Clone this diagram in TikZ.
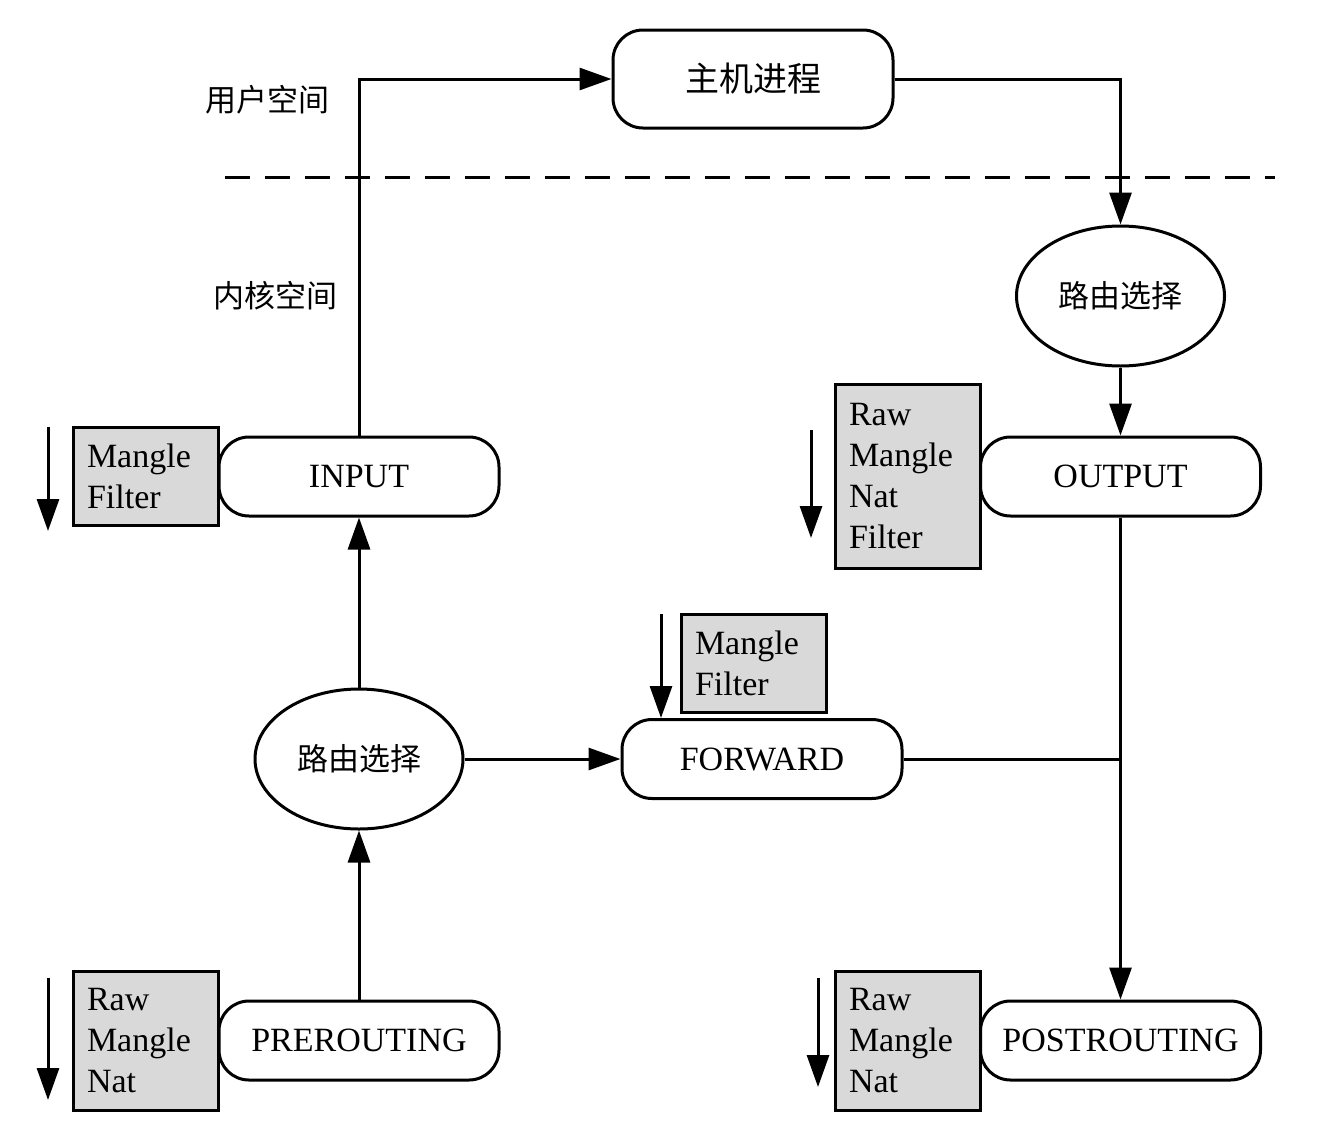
\documentclass[tikz,border=0pt]{standalone}
\usepackage{fontspec}
\setmainfont{Liberation Serif}
\newfontfamily\cjk{Noto Sans CJK SC}
\usetikzlibrary{shapes.geometric,arrows.meta}
\begin{document}
\begin{tikzpicture}[x=1pt,y=-1pt,
  lw/.style={line width=3pt},
  chain/.style={lw,draw,rounded corners=30pt,minimum width=280pt,minimum height=79pt,inner sep=0pt,font=\fontsize{34}{41}\selectfont},
  tbl/.style={lw,draw,fill=gray!30,minimum width=145pt,align=left,inner xsep=14pt,inner ysep=6pt,text width=117pt,font=\fontsize{34}{41}\selectfont},
  route/.style={lw,draw,ellipse,minimum width=208pt,minimum height=140pt,inner sep=0pt,font=\cjk\fontsize{31}{36}\selectfont},
  arr/.style={lw,-{Triangle[length=32pt,width=22pt]}},
  lbl/.style={font=\cjk\fontsize{31}{36}\selectfont}
]
\useasboundingbox (0,0) rectangle (1335,1146);

% dashed boundary
\coordinate (dl) at (225,177);
\coordinate (dr) at (1275,177);
\draw[lw,dash pattern=on 25pt off 15pt] (dl) -- (dr);

\node[lbl] (user) at (267,100) {用户空间};
\node[lbl] (kern) at (275,296) {内核空间};

% main nodes
\node[chain,minimum height=98pt] (host) at (753,79) {\cjk 主机进程};
\node[chain] (input) at (359,476.5) {INPUT};
\node[chain] (output) at (1120.5,476.5) {OUTPUT};
\node[chain] (fwd) at (762,759) {FORWARD};
\node[chain] (pre) at (359,1040.5) {PREROUTING};
\node[chain] (post) at (1120.5,1040.5) {POSTROUTING};
\node[route] (rs1) at (1120.5,296) {路由选择};
\node[route] (rs2) at (359,759) {路由选择};

% tables
\node[tbl,minimum height=98pt] (tin) at (145.5,476) {Mangle\\Filter};
\node[tbl,minimum height=184pt] (tout) at (907.5,476) {Raw\\Mangle\\Nat\\Filter};
\node[tbl,minimum height=98pt] (tfwd) at (753.5,663) {Mangle\\Filter};
\node[tbl,minimum height=139pt] (tpre) at (145.5,1040.5) {Raw\\Mangle\\Nat};
\node[tbl,minimum height=139pt] (tpost) at (907.5,1040.5) {Raw\\Mangle\\Nat};

% order arrows
\coordinate (a1s) at (48,427); \coordinate (a1e) at (48,531);
\draw[arr] (a1s) -- (a1e);
\coordinate (a2s) at (811,430); \coordinate (a2e) at (811,538);
\draw[arr] (a2s) -- (a2e);
\coordinate (a3s) at (661,614);
\draw[arr] (a3s) -- (a3s |- fwd.north);
\coordinate (a4s) at (48,978); \coordinate (a4e) at (48,1100);
\draw[arr] (a4s) -- (a4e);
\coordinate (a5s) at (818,978); \coordinate (a5e) at (818,1087);
\draw[arr] (a5s) -- (a5e);

% flow
\draw[arr] (input.north) |- (host.west);
\draw[arr] (host.east) -| (rs1.north);
\draw[arr] (rs1.south) -- (output.north);
\draw[arr] (output.south) -- (post.north);
\coordinate (j) at (output.south |- fwd.east);
\draw[lw] (fwd.east) -- (j);
\draw[arr] (rs2.east) -- (fwd.west);
\draw[arr] (rs2.north) -- (input.south);
\draw[arr] (pre.north) -- (rs2.south);
\end{tikzpicture}
\end{document}
